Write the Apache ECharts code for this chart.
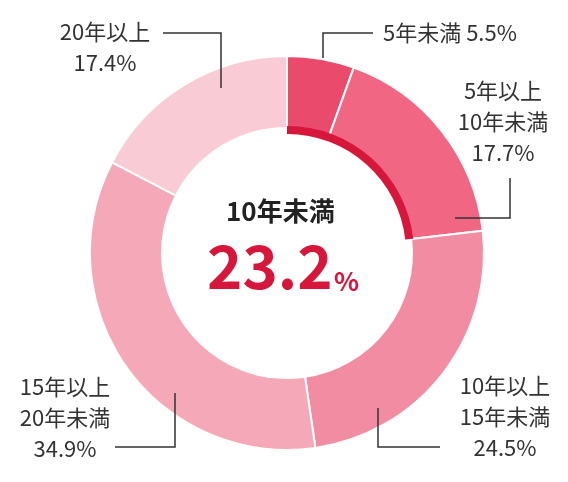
<!DOCTYPE html><html><head><meta charset="utf-8">
<script src="https://cdn.jsdelivr.net/npm/echarts@6/dist/echarts.min.js"></script>
<style>html,body{margin:0;background:#fff}#c{width:568px;height:482px}</style></head><body><div id="c"></div>
<script>
const categories=['5年未満','5年以上\n10年未満','10年以上\n15年未満','15年以上\n20年未満','20年以上'];
const values=[5.5,17.7,24.5,34.9,17.4];
const highlight=23.2;
const colors=['#ea4b6d','#f06683','#f28ca2','#f5a8b8','#f9cbd5'];
const F='"Noto Sans CJK JP","Noto Sans",sans-serif';
const pos=[{x:383,y:33,align:'left'},{x:503,y:122,align:'center'},{x:505,y:417,align:'center'},{x:65,y:418,align:'center'},{x:105,y:47,align:'center'}];
const lines=[[[323,58],[323,33],[373,33]],[[455,218],[510,218],[510,178]],[[378,408],[378,447],[440,447]],[[175,393],[175,447],[115,447]],[[221,88],[221,33],[163,33]]];
const chart=echarts.init(document.getElementById('c'));
chart.setOption({
 animation:false,
 graphic:lines.map(p=>({type:'polyline',shape:{points:p},style:{stroke:'#333',lineWidth:1.5,fill:null},z:10})).concat([
  {type:'text',left:226,top:198,style:{text:'10年未満',font:'bold 26px '+F,fill:'#222'}},
  {type:'text',left:207,top:236,style:{text:'23.2',font:'bold 60px '+F,fill:'#d6163a'}},
  {type:'text',left:334,top:268,style:{text:'%',font:'bold 26px '+F,fill:'#d6163a'}}
 ]),
 series:[{type:'pie',center:[287,253],radius:[125,197],startAngle:90,clockwise:true,
  itemStyle:{borderColor:'#fff',borderWidth:2},
  label:{show:true,overflow:'none',width:300,formatter:p=>p.dataIndex===0?p.name+' '+p.value+'%':p.name+'\n'+p.value+'%',fontSize:22,lineHeight:31,color:'#333',fontFamily:F},
  labelLine:{show:false},
  labelLayout:p=>({x:pos[p.dataIndex].x,y:pos[p.dataIndex].y,align:pos[p.dataIndex].align,verticalAlign:'middle'}),
  data:values.map((v,i)=>({name:categories[i],value:v,itemStyle:{color:colors[i]}}))},
 {type:'pie',center:[287,253],radius:[119,127],startAngle:90,silent:true,label:{show:false},labelLine:{show:false},
  data:[{value:highlight,itemStyle:{color:'#d6163a'}},{value:100-highlight,itemStyle:{color:'rgba(0,0,0,0)'}}]}]
});
</script></body></html>
